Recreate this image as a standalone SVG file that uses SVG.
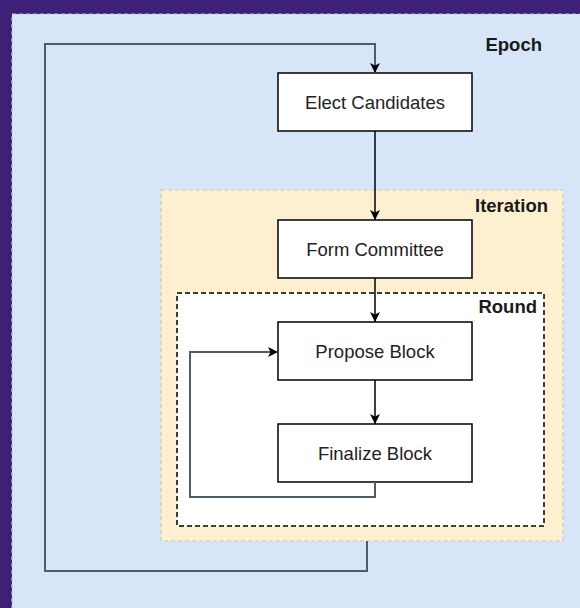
<svg xmlns="http://www.w3.org/2000/svg" width="580" height="608" viewBox="0 0 580 608">
<style>
.node rect{fill:#ffffff;stroke:#000000;stroke-width:1.5}
.node text{font-family:"Liberation Sans",Arial,sans-serif;font-size:18.5px;fill:#222222;text-anchor:middle;dominant-baseline:central}
.lbl{font-family:"Liberation Sans",Arial,sans-serif;font-size:18.5px;font-weight:bold;fill:#1a1a1a;text-anchor:end}
.conn path{fill:none;stroke:#000000;stroke-width:1.5}
.conn path.loop{stroke:#4e5d6c;stroke-width:2}
</style>
<defs>
<marker id="arr" viewBox="0 0 10 10" refX="10" refY="5" markerWidth="10" markerHeight="10" markerUnits="userSpaceOnUse" orient="auto">
<path d="M0,0 L10,5 L0,10 L2.5,5 Z" fill="#000000"/>
</marker>
</defs>
<rect x="0" y="0" width="580" height="608" fill="#3d2176"/>
<g id="epoch">
<rect x="12" y="14" width="580" height="610" fill="#d7e5f8" stroke="#b9c2cf" stroke-width="1.2" stroke-dasharray="4 3"/>
<text class="lbl" x="542" y="51">Epoch</text>
</g>
<g id="iteration">
<rect x="161" y="190" width="402" height="351" fill="#fdf0d1" stroke="#cfc8b0" stroke-width="1.2" stroke-dasharray="4 3"/>
<text class="lbl" x="548" y="212">Iteration</text>
</g>
<g id="round">
<rect x="177" y="293" width="367" height="233" fill="#ffffff" stroke="#000000" stroke-width="1.5" stroke-dasharray="5 3"/>
<text class="lbl" x="537" y="313">Round</text>
</g>
<g id="elect" class="node">
<rect x="278" y="73" width="194" height="58"/>
<text x="375" y="102">Elect Candidates</text>
</g>
<g id="form" class="node">
<rect x="278" y="220" width="194" height="58"/>
<text x="375" y="249">Form Committee</text>
</g>
<g id="propose" class="node">
<rect x="278" y="322" width="194" height="58"/>
<text x="375" y="351">Propose Block</text>
</g>
<g id="finalize" class="node">
<rect x="278" y="424" width="194" height="58"/>
<text x="375" y="453">Finalize Block</text>
</g>
<g id="connectors" class="conn">
<path d="M375,131 L375,220" marker-end="url(#arr)"/>
<path d="M375,278 L375,322" marker-end="url(#arr)"/>
<path d="M375,380 L375,424" marker-end="url(#arr)"/>
<path class="loop" d="M375,482 L375,497 L190,497 L190,352 L278,352" marker-end="url(#arr)"/>
<path class="loop" d="M367,541 L367,571 L45,571 L45,44 L375,44 L375,73" marker-end="url(#arr)"/>
</g>
</svg>
